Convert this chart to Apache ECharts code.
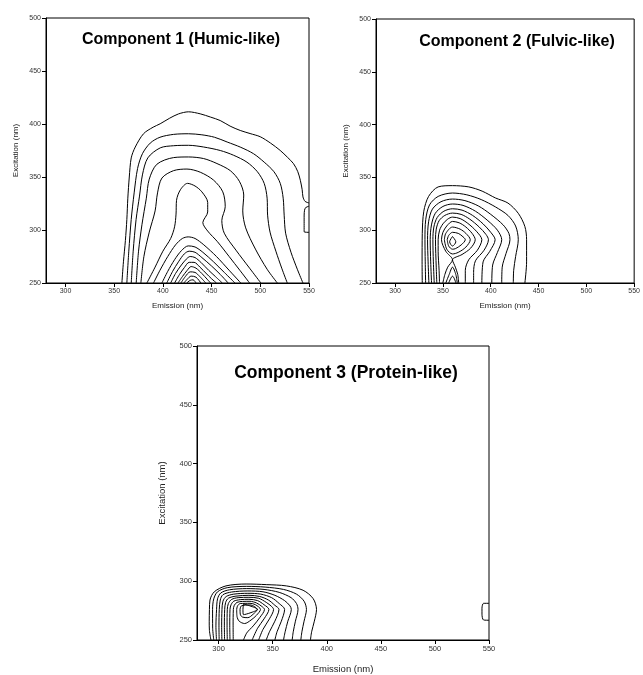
<!DOCTYPE html>
<html>
<head>
<meta charset="utf-8">
<script src="https://cdn.jsdelivr.net/npm/echarts@6/dist/echarts.min.js"></script>
<style>
html,body{margin:0;padding:0;background:#fff;}
#main{width:643px;height:675px;}
</style>
</head>
<body>
<div id="main"></div>
<script>
// tick labels
var xTicks = [300, 350, 400, 450, 500, 550];
var yTicks = [250, 300, 350, 400, 450, 500];
var titles = ['Component 1 (Humic-like)', 'Component 2 (Fulvic-like)', 'Component 3 (Protein-like)'];

// contour lines, [emission, excitation]
var comp1 = [
    [[357.9,250],[359.5,270],[361.5,290],[363,310],[364,330],[365.5,350],[367.5,368],[371.6,378.2],[380.1,390.8],[390,397],[397.2,400.2],[407,405.5],[416,409.5],[426.3,411.5],[438.3,409.6],[449,406.5],[458.8,403.3],[469,398],[479.4,393.9],[489.5,391],[499.9,388],[510.5,382],[520.4,375.1],[528,368.5],[534.1,362.6],[538.5,355],[541.1,346.9],[543,338],[543.8,331.2],[546,327],[550,325.5]],
    [[550,322.5],[546,320.5],[545,312],[545,298.3],[550,297.8]],
    [[363,250],[365,280],[367.5,310],[370.5,335],[374,358],[379,372],[387,382],[397,387.5],[411,390.2],[426.4,390.8],[440,389.8],[453,387.5],[466,383],[480,378],[493,372],[504,364],[514,355],[520.5,344],[523.5,330],[524.5,314],[526,297],[531.5,279],[538,263],[543.8,250]],
    [[367.5,250],[369.5,280],[372.5,310],[376,332],[379,352],[384.5,368],[397.3,377.5],[411,379.5],[426.4,379.9],[441.8,378.3],[458.9,375],[472.6,370.5],[486.3,364],[497,355],[504,344],[507,330],[507.5,314],[510,298],[516,280],[522,264],[527.7,250]],
    [[372.6,250],[375,280],[378.5,305],[383,330],[386,348],[393.8,362],[411,368.3],[426.4,368.9],[441.8,367.4],[455.5,362.7],[469.2,356],[478.5,346],[483,333],[482,318],[485,302],[495,282],[507,263],[517.5,250]],
    [[377.4,250],[380.5,275],[386,298],[392,318],[394.5,335],[399,349],[411,356],[424.7,357.5],[438.4,354.5],[452.1,347],[461.5,336],[464,322],[460.5,309],[463,297],[475,281],[489,264],[500.6,250]],
    [[383.6,250],[392,265],[400,280],[408,292],[412,303],[413.5,315],[414,328],[418,338],[425.3,344],[433,341.5],[440,336],[446,326],[446,317],[441,307],[446,299],[456,289],[468,275],[479,262],[489,250]],
    [[390.4,250],[397,262],[405,275],[413,286],[420,292],[426,293.5],[433,292],[442,286],[455,275],[468,262],[480,250]],
    [[399,250],[405,261],[412,272],[419,280.5],[426,285],[433,284],[441,279],[452,270],[463,260],[474,250]],
    [[404,250],[410,261],[416,270],[422,277.5],[427,280],[433,279],[440,274],[450,266],[459,258],[467,250]],
    [[408,250],[413,259],[419,267],[424,272.5],[428,275],[433,274],[439,269.5],[447,262],[454,256],[461,250]],
    [[412,250],[417,258],[422,264.5],[427,269.5],[432,269.5],[438,265],[445,258.5],[450,254],[455,250]],
    [[415.5,250],[420,256],[425,262],[429,265.5],[434,264],[440,259],[446,253],[449,250]],
    [[418.5,250],[423,256],[428,260.5],[433,260],[438,256],[444,250]],
    [[421.5,250],[425,253.5],[429,256.5],[434,255.5],[439,250]],
    [[424.5,250],[428,252.5],[431,253],[434,250]]
];

var comp2 = [
    [[328.4,250],[328.2,270],[328.4,297],[330,318],[335,332],[345,341],[360,342.2],[377,341],[391,337],[405,330.5],[418,325.7],[428.8,316],[435.7,303.5],[437.5,291],[437.5,270],[435.7,250]],
    [[331.9,250],[331.5,270],[331.2,291],[332,310],[336,324],[345,332],[360,335.2],[375,333.5],[390,329],[405,322],[418,314],[426,304],[428.8,291],[426,275],[424,262],[423.6,250]],
    [[335.3,250],[334.5,270],[333.9,291],[335,308],[339,320],[348,327],[360,329.5],[373,328],[387,323],[400,315],[413,305],[419,297],[420.1,291],[416,278],[412,265],[411.5,250]],
    [[338.1,250],[337.2,270],[336.7,291],[338,305],[342,316],[350,322.5],[360,324.8],[371,323.5],[384,318],[397,309],[407,300],[411.5,291],[407,279],[402,267],[401.1,250]],
    [[340.9,250],[340,270],[339.5,291],[340.5,303],[344,312],[351,318],[360,320.3],[370,319],[381,314],[392,306],[400,298],[404.6,291],[399,280],[392,270],[390.7,250]],
    [[343.6,250],[343,265],[342.2,291],[343,301],[346,309],[352,314],[360,316.2],[369,315],[378,310.5],[388,303],[395,296],[397.6,291],[393,281],[384,271],[382.1,260],[382.1,250]],
    [[346.4,250],[346,262],[345,280],[345,291],[346.5,300],[350,306],[355,310.5],[360,312.4],[368,311],[376,306.5],[385,299],[390.7,291],[386,281],[377,272],[373.4,262],[373.4,250]],
    [[349.9,250],[352,258],[355,265],[360,272],[353,280],[348.5,291],[350,298],[354,304],[360,308.3],[367,307],[374,303],[380.5,297],[383.8,291],[379,283],[370,277],[360,272],[363,265],[365.5,258],[366.5,250]],
    [[351.5,291],[353,297],[360,303],[368,301],[374,297],[378.6,291],[374,284],[366,279],[360,277.5],[354,282],[351.5,291]],
    [[354.5,291],[356,295],[360,298],[366,297],[370,294.5],[373.4,291],[369,286],[363,282.5],[360,282],[356,285],[354.5,291]],
    [[360,294],[363.5,289],[360,285],[357,289],[360,294]],
    [[353,250],[356.5,258],[360,265],[363.5,258],[365,250]],
    [[356,250],[358,254],[360,256.5],[362,254],[363.5,250]]
];

var comp3 = [
    [[292.9,250],[291.5,258],[291.3,266],[291.5,276],[292,284],[296,291],[306.8,296],[325.4,297.6],[344,297.1],[362.6,296],[378.1,292.3],[387.4,285.2],[390.5,276],[388.5,266],[386,257],[384.9,250]],
    [[295.5,250],[294.5,260],[294.4,276],[295.5,285],[299,291],[308,294.5],[326,295.6],[343,295],[360,293],[372,289],[379,283],[381.2,276],[379,266],[377,257],[376,250]],
    [[298,250],[297.5,262],[298.1,276],[299,285],[302,290],[310,292.7],[326,293.7],[342,293],[356,290.5],[367,286],[372,281],[373.4,276],[371,266],[369,257],[368,250]],
    [[300.5,250],[300.3,262],[300.6,276],[301.5,284],[304,288.5],[312,290.8],[327,291.7],[341,291],[352,288],[361,283.5],[366,279],[367.2,276],[364,266],[361.5,257],[360,250]],
    [[303,250],[302.8,262],[303.1,276],[304,283],[307,287],[314,289],[327,289.7],[339,289],[349,286],[356,281],[361,276],[358,266],[354,257],[352,250]],
    [[305.5,250],[305.3,262],[305.6,276],[306.5,282],[309,285.5],[316,287.3],[328,288],[338,287],[346,284],[352,279.5],[355.8,276],[352,266],[347,257],[344,250]],
    [[308,250],[307.8,262],[308,276],[309,281],[312,284.5],[318,286],[328,286.3],[337,285.5],[344,282],[349,278.5],[350.8,276],[347,268],[341,259],[337,250]],
    [[310.5,250],[310.3,262],[310.5,276],[311.5,280],[314,283],[320,284.3],[328,284.6],[336,283.5],[342,280],[346.5,276],[342,268],[336,260],[331,250]],
    [[313.5,250],[313.4,262],[313.6,276],[314.5,279.5],[317,282],[322,282.8],[329,282.9],[335,281.5],[340,278.5],[342.4,276],[338,269],[332,262],[326,256],[323,250]],
    [[316.7,276],[317.5,279],[320,281],[329,281.2],[334,280],[338.7,276],[335,271],[330,267],[324,264],[319,266],[317,270],[316.7,276]],
    [[319.8,276],[321,279],[329,279.8],[333,278.5],[335.6,276],[332,272],[327,269],[322,269.5],[320,272],[319.8,276]],
    [[323,280.5],[329,279],[336,276],[329,273],[323,271.5],[322.5,276],[323,280.5]],
    [[550,281.2],[545,281.2],[543.5,277],[543.5,272],[545,267],[550,266.8]]
];

var chartDom = document.getElementById('main');
var myChart = echarts.init(chartDom, null, {renderer: 'canvas'});
var font = 'Liberation Sans, Arial, sans-serif';

// grid boxes
var grids = [
    {left: 46, top: 18, width: 263, height: 265},
    {left: 376, top: 19, width: 262, height: 264},
    {left: 197, top: 346, width: 292, height: 296}
];
var tickSize = [7, 7, 7.5];
var nameSize = [8, 8, 9.5];
var xNameGap = [19, 19, 24];
var yNameGap = [26, 26, 30];

function makeX(i){
    return {
        type: 'value', gridIndex: i, min: 280, max: 550,
        name: 'Emission (nm)', nameLocation: 'middle', nameGap: xNameGap[i],
        nameTextStyle: {fontSize: nameSize[i], color: '#222', fontFamily: font},
        axisLine: {show: true, onZero: false, lineStyle: {color: '#000', width: 1}},
        axisTick: {show: true, customValues: xTicks, length: 4, lineStyle: {color: '#000'}},
        axisLabel: {customValues: xTicks, fontSize: tickSize[i], color: '#333', margin: 5, fontFamily: font},
        splitLine: {show: false}
    };
}
function makeY(i){
    return {
        type: 'value', gridIndex: i, min: 250, max: 500,
        name: 'Excitation (nm)', nameLocation: 'middle', nameGap: yNameGap[i],
        nameTextStyle: {fontSize: nameSize[i], color: '#222', fontFamily: font},
        axisLine: {show: true, onZero: false, lineStyle: {color: '#000', width: 1}},
        axisTick: {show: true, customValues: yTicks, length: 4, lineStyle: {color: '#000'}},
        axisLabel: {customValues: yTicks, fontSize: tickSize[i], color: '#333', margin: 5, fontFamily: font},
        splitLine: {show: false}
    };
}

var series = [];
[comp1, comp2, comp3].forEach(function(lines, i){
    lines.forEach(function(pts){
        series.push({
            type: 'line', xAxisIndex: i, yAxisIndex: i,
            data: pts, symbol: 'none', smooth: 0.3,
            lineStyle: {color: '#000', width: 1},
            silent: true, clip: true
        });
    });
});

var option = {
    backgroundColor: '#ffffff',
    animation: false,
    title: [
        {text: titles[0], left: 181, top: 32, textAlign: 'center', padding: 0,
            textStyle: {fontSize: 16, fontWeight: 'bold', color: '#000', fontFamily: font}},
        {text: titles[1], left: 517, top: 34, textAlign: 'center', padding: 0,
            textStyle: {fontSize: 16, fontWeight: 'bold', color: '#000', fontFamily: font}},
        {text: titles[2], left: 346, top: 364, textAlign: 'center', padding: 0,
            textStyle: {fontSize: 17.5, fontWeight: 'bold', color: '#000', fontFamily: font}}
    ],
    grid: grids.map(function(g){
        return Object.assign({show: true, borderColor: '#000', borderWidth: 1, containLabel: false}, g);
    }),
    xAxis: [makeX(0), makeX(1), makeX(2)],
    yAxis: [makeY(0), makeY(1), makeY(2)],
    series: series
};
myChart.setOption(option);
</script>
</body>
</html>
